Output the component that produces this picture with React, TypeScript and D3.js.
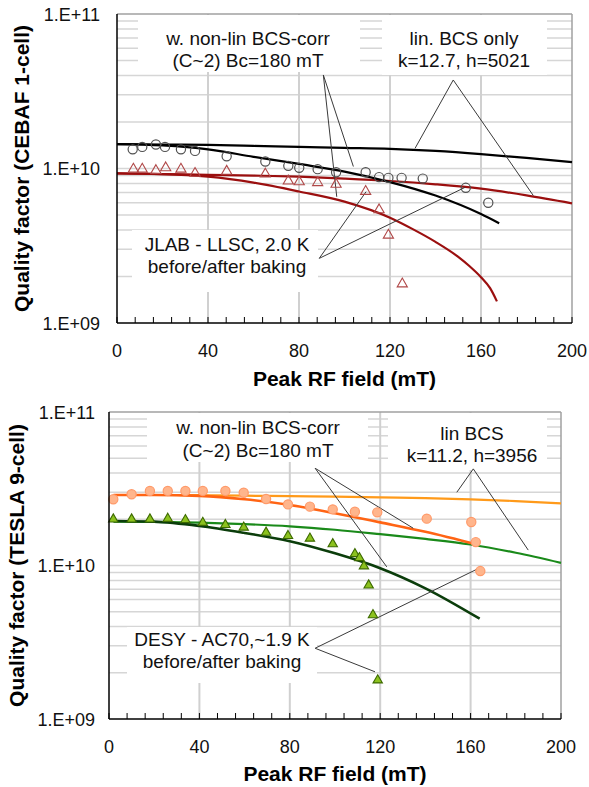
import React from 'react';
import * as d3 from 'd3';

// ---------- shared axis content ----------
const xTickValues = [0, 40, 80, 120, 160, 200];
const yTickValues = [1e9, 1e10, 1e11];
const yTickLabels = ['1.E+09', '1.E+10', '1.E+11'];
const xTitle = 'Peak RF field (mT)';

// ---------- top chart: CEBAF 1-cell ----------
const topYTitle = 'Quality factor (CEBAF 1-cell)';
const topCircleB = [6.9, 11.1, 17.1, 21.1, 28.1, 34.3, 48.2, 65.2, 75.3, 80.1, 88.2, 96.3, 109.3, 115.2, 119.3, 125.1, 134.4, 153.3, 163.2];
const topCircleQ = [1.33e10, 1.38e10, 1.43e10, 1.38e10, 1.33e10, 1.30e10, 1.20e10, 1.11e10, 1.04e10, 1.01e10, 9.9e9, 9.45e9, 9.45e9, 8.8e9, 8.7e9, 8.7e9, 8.6e9, 7.5e9, 6.0e9];
const topTriB = [7.2, 11.1, 17.1, 21.4, 28.1, 34.3, 48.2, 65.2, 75.3, 80.1, 88.2, 96.3, 109.3, 115.2, 119.3, 125.4];
const topTriQ = [9.9e9, 9.9e9, 9.7e9, 1.01e10, 9.9e9, 9.3e9, 9.6e9, 9.2e9, 8.3e9, 8.2e9, 8.1e9, 7.9e9, 7.1e9, 5.4e9, 3.7e9, 1.79e9];
const topLinB = [0, 20, 40, 60, 80, 100, 120, 140, 160, 180, 200];
const topBlackLinQ = [1.44e10, 1.43e10, 1.42e10, 1.40e10, 1.38e10, 1.36e10, 1.34e10, 1.30e10, 1.24e10, 1.17e10, 1.10e10];
const topRedLinQ = [9.3e9, 9.2e9, 9.1e9, 9.0e9, 8.85e9, 8.6e9, 8.3e9, 7.9e9, 7.4e9, 6.7e9, 5.95e9];
const topBlackNonB = [0, 20, 40, 60, 80, 100, 120, 140, 160, 168];
const topBlackNonQ = [1.44e10, 1.41e10, 1.33e10, 1.19e10, 1.07e10, 9.55e9, 8.17e9, 6.68e9, 5.07e9, 4.42e9];
const topRedNonB = [0, 20, 40, 60, 80, 100, 120, 130, 140, 150, 155, 160, 164, 167];
const topRedNonQ = [9.3e9, 9.2e9, 8.85e9, 8.1e9, 7.1e9, 6.1e9, 4.8e9, 4.05e9, 3.35e9, 2.68e9, 2.33e9, 1.98e9, 1.68e9, 1.38e9];
const topLabelNonLin = ['w. non-lin BCS-corr', '(C~2) Bc=180 mT'];
const topLabelLin = ['lin. BCS only', 'k=12.7, h=5021'];
const topLabelData = ['JLAB - LLSC, 2.0 K', 'before/after baking'];
// leader lines: [apexB, apexQ, endB, endQ]
const topLeaders = [
  [90.7, 4.03e10, 103.9, 1.03e10],
  [90.7, 4.03e10, 96.6, 6.56e9],
  [147.8, 3.74e10, 131, 1.35e10],
  [147.8, 3.74e10, 183, 6.68e9],
  [88.9, 2.62e9, 109.5, 7.08e9],
  [88.9, 2.62e9, 153, 7.55e9],
];

// ---------- bottom chart: TESLA 9-cell ----------
const botYTitle = 'Quality factor (TESLA 9-cell)';
const botCircleB = [1.9, 10.0, 18.1, 26.0, 33.8, 41.5, 51.5, 59.6, 69.5, 79.2, 88.9, 99.0, 108.8, 118.7, 140.6, 160.3, 162.3, 164.3];
const botCircleQ = [2.70e10, 2.91e10, 3.06e10, 3.06e10, 3.06e10, 3.06e10, 3.06e10, 2.98e10, 2.71e10, 2.50e10, 2.42e10, 2.32e10, 2.24e10, 2.22e10, 2.02e10, 1.92e10, 1.42e10, 9.2e9];
const botTriB = [1.9, 10.0, 18.1, 26.0, 33.8, 41.5, 51.5, 59.6, 69.5, 79.2, 88.9, 99.0, 108.8, 110.8, 112.8, 114.9, 116.8, 118.9];
const botTriQ = [2.0e10, 2.0e10, 2.0e10, 2.02e10, 1.98e10, 1.90e10, 1.84e10, 1.77e10, 1.64e10, 1.56e10, 1.50e10, 1.38e10, 1.19e10, 1.12e10, 9.9e9, 7.43e9, 4.76e9, 1.79e9];
const botLinB = [2, 20, 40, 60, 80, 100, 120, 140, 160, 180, 200];
const botOrangeLinQ = [2.88e10, 2.88e10, 2.87e10, 2.85e10, 2.83e10, 2.81e10, 2.78e10, 2.75e10, 2.70e10, 2.63e10, 2.54e10];
const botGreenLinQ = [1.93e10, 1.92e10, 1.90e10, 1.86e10, 1.80e10, 1.71e10, 1.60e10, 1.49e10, 1.37e10, 1.21e10, 1.04e10];
const botOrangeNonB = [2, 20, 40, 60, 80, 100, 120, 140, 163];
const botOrangeNonQ = [2.88e10, 2.88e10, 2.84e10, 2.70e10, 2.48e10, 2.19e10, 1.91e10, 1.66e10, 1.37e10];
const botGreenNonB = [2, 20, 40, 60, 80, 100, 120, 140, 164];
const botGreenNonQ = [1.95e10, 1.93e10, 1.81e10, 1.63e10, 1.44e10, 1.20e10, 9.6e9, 7.1e9, 4.5e9];
const botLabelNonLin = ['w. non-lin BCS-corr', '(C~2) Bc=180 mT'];
const botLabelLin = ['lin BCS', 'k=11.2, h=3956'];
const botLabelData = ['DESY - AC70,~1.9 K', 'before/after baking'];
const botLeaders = [
  [91.2, 4.3e10, 134.6, 1.75e10],
  [91.2, 4.3e10, 122.9, 9.8e9],
  [161.2, 4.26e10, 153.9, 3.0e10],
  [161.2, 4.26e10, 185.5, 1.26e10],
  [91.2, 2.89e9, 117.7, 2.03e9],
  [91.2, 2.89e9, 162.7, 9.44e9],
];

const FONT = "'Liberation Sans', Arial, sans-serif";

const zip = (a: number[], b: number[]) => a.map((v, i) => [v, b[i]] as [number, number]);

type CurveSpec = { b: number[]; q: number[]; color: string; width: number };
type Box = { x0: number; x1: number; y0: number; y1: number };
type Label = { lines: string[]; cx: number; y: number[]; box: Box };

function Chart(props: {
  l: number; r: number; t: number; b: number;
  curves: CurveSpec[];
  circles: { b: number[]; q: number[]; fill: string; stroke: string; r: number };
  tris: { b: number[]; q: number[]; fill: string; stroke: string; size: number };
  labels: Label[];
  leaders: number[][];
  yTitle: string; yTitleX: number;
  yLabelRight: number; xLabelBase: number; xTitleBase: number;
}) {
  const p = props;
  const x = d3.scaleLinear().domain([0, 200]).range([p.l, p.r]);
  const y = d3.scaleLog().domain([1e9, 1e11]).range([p.b, p.t]);
  const line = d3.line<[number, number]>().x(d => x(d[0])).y(d => y(d[1])).curve(d3.curveMonotoneX);
  const gridQ = y.ticks().filter(v => v > 1e9 && v < 1e11);
  const minorX = d3.range(0, 201, 8);
  const tri = d3.symbol().type(d3.symbolTriangle).size(p.tris.size)();
  const cy = (p.t + p.b) / 2;
  return (
    <g>
      {gridQ.map((v, i) => (
        <line key={'h' + i} x1={p.l} x2={p.r} y1={y(v)} y2={y(v)} stroke="#d6d6d6" strokeWidth={1.5} />
      ))}
      {xTickValues.filter(v => v > 0 && v < 200).map((v, i) => (
        <line key={'v' + i} x1={x(v)} x2={x(v)} y1={p.t} y2={p.b} stroke="#d0d0d0" strokeWidth={2} />
      ))}
      {p.labels.map((lb, i) => (
        <rect key={'bx' + i} x={lb.box.x0} y={lb.box.y0} width={lb.box.x1 - lb.box.x0} height={lb.box.y1 - lb.box.y0} fill="#fff" />
      ))}
      <line x1={p.l} x2={p.r} y1={p.t} y2={p.t} stroke="#a0a0a0" strokeWidth={1.5} />
      <line x1={p.r} x2={p.r} y1={p.t} y2={p.b} stroke="#a0a0a0" strokeWidth={1.5} />
      {p.curves.map((c, i) => (
        <path key={'c' + i} d={line(zip(c.b, c.q)) || ''} fill="none" stroke={c.color} strokeWidth={c.width} />
      ))}
      {p.leaders.map((ld, i) => (
        <line key={'ld' + i} x1={x(ld[0])} y1={y(ld[1])} x2={x(ld[2])} y2={y(ld[3])} stroke="#3a3a3a" strokeWidth={1} />
      ))}
      {zip(p.circles.b, p.circles.q).map((d, i) => (
        <circle key={'o' + i} cx={x(d[0])} cy={y(d[1])} r={p.circles.r} fill={p.circles.fill} stroke={p.circles.stroke} strokeWidth={1.2} />
      ))}
      {zip(p.tris.b, p.tris.q).map((d, i) => (
        <path key={'t' + i} d={tri || ''} transform={`translate(${x(d[0])},${y(d[1])})`} fill={p.tris.fill} stroke={p.tris.stroke} strokeWidth={1.1} />
      ))}
      {p.labels.map((lb, i) => (
        <g key={'lt' + i}>
          {lb.lines.map((s, j) => (
            <text key={j} x={lb.cx} y={lb.y[j]} textAnchor="middle" fontFamily={FONT} fontSize={19} fill="#111">{s}</text>
          ))}
        </g>
      ))}
      <line x1={p.l} x2={p.l} y1={p.t} y2={p.b} stroke="#000" strokeWidth={1.5} />
      <line x1={p.l} x2={p.r} y1={p.b} y2={p.b} stroke="#000" strokeWidth={1.5} />
      {minorX.map((v, i) => (
        <line key={'mx' + i} x1={x(v)} x2={x(v)} y1={p.b} y2={p.b - 6} stroke="#000" strokeWidth={1} />
      ))}
      {xTickValues.map((v, i) => (
        <text key={'xl' + i} x={x(v)} y={p.xLabelBase} textAnchor="middle" fontFamily={FONT} fontSize={18} fill="#111">{v}</text>
      ))}
      {yTickValues.map((v, i) => (
        <text key={'yl' + i} x={p.yLabelRight} y={y(v) + 6.5} textAnchor="end" fontFamily={FONT} fontSize={18} fill="#111">{yTickLabels[i]}</text>
      ))}
      <text x={(p.l + p.r) / 2} y={p.xTitleBase} textAnchor="middle" fontFamily={FONT} fontSize={21} fontWeight="bold" fill="#000">{xTitle}</text>
      <text transform={`translate(${p.yTitleX},${cy}) rotate(-90)`} dy="0.35em" textAnchor="middle" fontFamily={FONT} fontSize={21} fontWeight="bold" fill="#000">{p.yTitle}</text>
    </g>
  );
}

export default function App() {
  return (
    <svg width={589} height={787} style={{ position: 'absolute', left: 0, top: 0, background: '#fff' }}>
      <rect x={0} y={0} width={589} height={787} fill="#fff" />
      <Chart
        l={117} r={572} t={14} b={323}
        curves={[
          { b: topLinB, q: topBlackLinQ, color: '#000', width: 2.2 },
          { b: topLinB, q: topRedLinQ, color: '#9b0f0f', width: 2.2 },
          { b: topBlackNonB, q: topBlackNonQ, color: '#000', width: 2.2 },
          { b: topRedNonB, q: topRedNonQ, color: '#9b0f0f', width: 2.2 },
        ]}
        circles={{ b: topCircleB, q: topCircleQ, fill: 'none', stroke: '#505050', r: 4.6 }}
        tris={{ b: topTriB, q: topTriQ, fill: 'none', stroke: '#b04848', size: 45 }}
        labels={[
          { lines: topLabelNonLin, cx: 248, y: [45, 67], box: { x0: 138, x1: 360, y0: 15, y1: 72 } },
          { lines: topLabelLin, cx: 464, y: [45, 67], box: { x0: 382, x1: 547, y0: 15, y1: 75 } },
          { lines: topLabelData, cx: 227, y: [251, 273], box: { x0: 132, x1: 318, y0: 230, y1: 292 } },
        ]}
        leaders={topLeaders}
        yTitle={topYTitle} yTitleX={22}
        yLabelRight={100} xLabelBase={357} xTitleBase={386}
      />
      <Chart
        l={109} r={561} t={412} b={719}
        curves={[
          { b: botLinB, q: botOrangeLinQ, color: '#ff9a1a', width: 2.2 },
          { b: botLinB, q: botGreenLinQ, color: '#1a8a1a', width: 2.2 },
          { b: botOrangeNonB, q: botOrangeNonQ, color: '#ff6414', width: 2.6 },
          { b: botGreenNonB, q: botGreenNonQ, color: '#0b3d0b', width: 2.6 },
        ]}
        circles={{ b: botCircleB, q: botCircleQ, fill: '#ffb58c', stroke: '#ff9a6a', r: 4.6 }}
        tris={{ b: botTriB, q: botTriQ, fill: '#8cc21e', stroke: '#3d6a00', size: 38 }}
        labels={[
          { lines: botLabelNonLin, cx: 258, y: [434, 456.5], box: { x0: 147, x1: 368, y0: 413, y1: 462 } },
          { lines: botLabelLin, cx: 472, y: [440, 462], box: { x0: 388, x1: 547, y0: 413, y1: 470 } },
          { lines: botLabelData, cx: 222, y: [646, 668], box: { x0: 127, x1: 317, y0: 627, y1: 683 } },
        ]}
        leaders={botLeaders}
        yTitle={botYTitle} yTitleX={16.5}
        yLabelRight={95} xLabelBase={753} xTitleBase={781}
      />
    </svg>
  );
}
